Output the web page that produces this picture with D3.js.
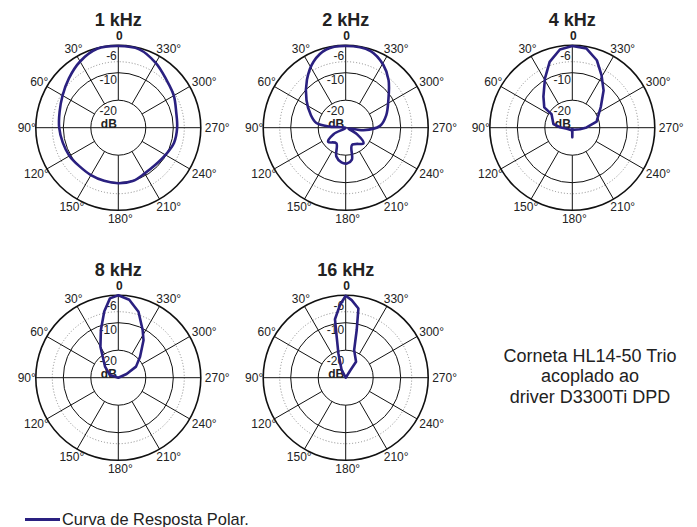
<!DOCTYPE html>
<html>
<head>
<meta charset="utf-8">
<title>Polar</title>
<script src="https://d3js.org/d3.v7.min.js"></script>
<style>
  body { margin: 0; background: #fff; }
  svg { display: block; font-family: "Liberation Sans", Arial, sans-serif; }
</style>
</head>
<body>
<script>
// data: [angle in degrees (ccw from front), level in dB]
const titles = ["1 kHz", "2 kHz", "4 kHz", "8 kHz", "16 kHz"];
const angleTicks = [0, 30, 60, 90, 120, 150, 180, 210, 240, 270, 300, 330];
const dbRings = [-6, -10, -20];
const dbRange = [-30, 0];

const curve1k = [[0,-0.3],[15,-0.3],[30,-2.2],[45,-4.6],[60,-6.6],[75,-7.9],[90,-8.5],[105,-9.1],
  [120,-9.5],[135,-10.1],[150,-10.1],[165,-10],[180,-9.8],[195,-9.9],[210,-10.8],[225,-10.9],
  [240,-10.2],[255,-9],[270,-8.6],[285,-8.2],[300,-6.7],[315,-5.3],[330,-2.8],[345,-0.5]];
const curve2k = [[0,-0.3],[14,-0.7],[26,-3.3],[39,-7.6],[55,-12.6],[70,-16.5],[81,-19.2],[86,-24.3],
  [100,-30],[118,-25],[129,-21.8],[149,-23.4],[162,-19],[173,-17.3],[182,-17],[191,-18.2],
  [200,-23.3],[229,-21.4],[240,-25.3],[254,-29],[262,-23.5],[273,-17.5],[287,-14.6],[303,-11.5],
  [318,-6.7],[329,-3.4],[342,-0.7]];
const curve4k = [[0,-0.3],[9,-1.2],[19,-4.7],[29,-9.5],[43,-14.6],[54,-17.4],[57,-21],[79,-23],
  [88,-25.5],[100,-28],[150,-29],[175,-29.5],[180,-26.5],[185,-29.5],[220,-29],[258,-27.2],
  [271,-24.8],[284,-20.9],[306,-17.2],[320,-12.3],[331,-8.1],[340,-3.9],[350,-0.7]];
const curve8k = [[0,0],[6,-1],[12,-5.4],[20,-11.5],[30,-17],[50,-23.7],[72,-26.8],[90,-30],
  [180,-30],[270,-30],[294,-26.7],[302,-22.4],[314,-19],[326,-13.6],[333,-10.5],[343,-4.9],[352,-1.4]];
const curve16k = [[0,-0.2],[4.5,-3.5],[10.4,-8.4],[12.4,-14.7],[16.8,-20.8],[27.6,-26.8],[90,-30],
  [270,-30],[328,-27],[327,-23.1],[343,-19.5],[347,-12.2],[349.6,-4.4],[355.6,-1.7]];

const noteLines = ["Corneta HL14-50 Trio", "acoplado ao", "driver D3300Ti DPD"];
const legendLabel = "Curva de Resposta Polar.";

const width = 697, height = 527, R = 82.5;
const ink = "#222", lineColor = "#2a2080";

const panels = [
  { title: titles[0], data: curve1k, cx: 118.3, cy: 127.7, smooth: true },
  { title: titles[1], data: curve2k, cx: 345.7, cy: 127.7, smooth: true },
  { title: titles[2], data: curve4k, cx: 572.3, cy: 127.7, smooth: false },
  { title: titles[3], data: curve8k, cx: 118.3, cy: 377.7, smooth: false },
  { title: titles[4], data: curve16k, cx: 345.7, cy: 377.7, smooth: false }
];

const r = d3.scaleLinear().domain(dbRange).range([0, R]).clamp(true);
const rad = d => d * Math.PI / 180;

const svg = d3.select("body").append("svg")
    .attr("width", width)
    .attr("height", height);

panels.forEach(p => {
  const g = svg.append("g").attr("transform", `translate(${p.cx},${p.cy})`);

  // rings
  g.append("circle").attr("r", r(0)).attr("fill", "none").attr("stroke", "#111").attr("stroke-width", 1.6);
  dbRings.forEach(v => {
    g.append("circle")
        .attr("r", r(v))
        .attr("fill", "none")
        .attr("stroke", v === -6 ? "#888" : "#111")
        .attr("stroke-width", 1)
        .attr("stroke-dasharray", v === -6 ? "1,2" : null);
  });

  // spokes
  angleTicks.filter(a => a !== 90 && a !== 270).forEach(a => {
    const dx = -Math.sin(rad(a)), dy = -Math.cos(rad(a));
    g.append("line")
        .attr("x1", dx * r(-20)).attr("y1", dy * r(-20))
        .attr("x2", dx * r(0)).attr("y2", dy * r(0))
        .attr("stroke", "#111").attr("stroke-width", 1);
  });
  g.append("line")
      .attr("x1", -r(0)).attr("x2", r(0)).attr("y1", 0).attr("y2", 0)
      .attr("stroke", "#111").attr("stroke-width", 1);

  // angle labels
  angleTicks.forEach(a => {
    const dx = -Math.sin(rad(a)), dy = -Math.cos(rad(a));
    if (a === 0) {
      g.append("text").text("0")
          .attr("x", 1).attr("y", -r(0) - 5)
          .attr("text-anchor", "middle")
          .attr("font-size", 12).attr("font-weight", "bold").attr("fill", ink);
      return;
    }
    const t = g.append("text").text(a + "°")
        .attr("text-anchor", "middle")
        .attr("font-size", 12).attr("fill", ink);
    const w = t.node().getComputedTextLength();
    const x = R * dx + dx * (2 + w / 2) + 2;
    const y = R * dy + dy * 9 + 4.3;
    t.attr("x", x).attr("y", y);
  });

  // dB labels
  const dbOffset = { "-6": -2, "-10": 11, "-20": 15 };
  dbRings.forEach(v => {
    g.append("text").text(v)
        .attr("x", -1.5).attr("y", -r(v) + dbOffset[v])
        .attr("text-anchor", "end")
        .attr("font-size", 12).attr("fill", ink);
  });
  g.append("text").text("dB")
      .attr("x", -1.5).attr("y", 0)
      .attr("text-anchor", "end")
      .attr("font-size", 12).attr("font-weight", "bold").attr("fill", ink);

  // response curve
  const line = d3.lineRadial()
      .angle(d => -rad(d[0]))
      .radius(d => r(d[1]))
      .curve(p.smooth ? d3.curveCatmullRomClosed.alpha(0.5) : d3.curveLinearClosed);
  g.append("path")
      .attr("d", line(p.data))
      .attr("fill", "none")
      .attr("stroke", lineColor)
      .attr("stroke-width", 2.6)
      .attr("stroke-linejoin", "round");

  // title
  svg.append("text").text(p.title)
      .attr("x", p.cx).attr("y", p.cy - 102)
      .attr("text-anchor", "middle")
      .attr("font-size", 18).attr("font-weight", "bold").attr("fill", ink);
});

// note on the right
svg.append("g").selectAll("text")
  .data(noteLines)
  .enter().append("text")
    .text(d => d)
    .attr("x", 590)
    .attr("y", (d, i) => 362 + i * 20.3)
    .attr("text-anchor", "middle")
    .attr("font-size", 18)
    .attr("fill", ink);

// legend
svg.append("line")
    .attr("x1", 25).attr("x2", 60).attr("y1", 519.5).attr("y2", 519.5)
    .attr("stroke", lineColor).attr("stroke-width", 3);
svg.append("text").text(legendLabel)
    .attr("x", 62).attr("y", 524.5)
    .attr("font-size", 16.4).attr("fill", ink);
</script>
</body>
</html>
